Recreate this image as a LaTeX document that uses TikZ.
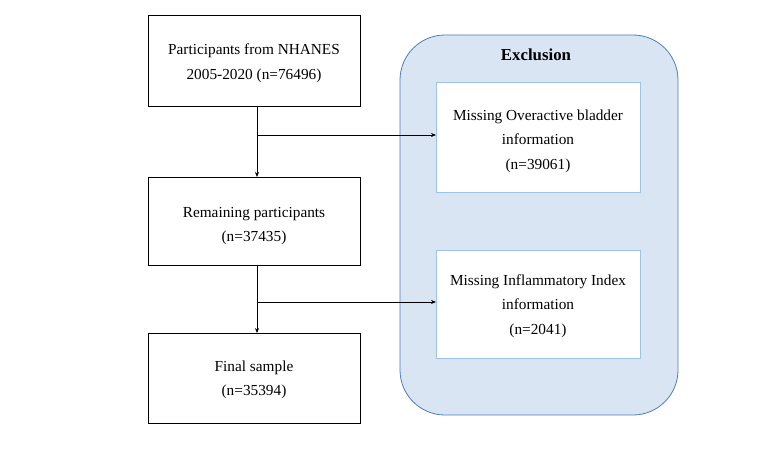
\documentclass[tikz,border=0pt]{standalone}
\usepackage{fontspec}
\setmainfont{Liberation Serif}
\usetikzlibrary{arrows.meta}
\begin{document}
\begin{tikzpicture}[x=1pt,y=-1pt,
  mainbox/.style={draw=black,line width=1pt,fill=white},
  subbox/.style={draw={rgb,255:red,157;green,195;blue,230},line width=1pt,fill=white},
  lbl/.style={font=\fontsize{15.3}{24.5}\selectfont,align=center},
  arr/.style={-{Stealth[length=5pt,width=4pt]},line width=0.8pt}]
\useasboundingbox (0,0) rectangle (777,460);
\draw[draw={rgb,255:red,74;green,126;blue,187},fill={rgb,255:red,218;green,229;blue,243},rounded corners=45pt,line width=0.8pt] (400,35) rectangle (678,415);
\node[font=\fontsize{16.8}{18}\selectfont\bfseries] (ex) at (536,55) {Exclusion};
\draw[mainbox] (148,16) rectangle (360,107);
\node[lbl] (a) at (254,63) {Participants from NHANES\\2005-2020 (n=76496)};
\draw[mainbox] (148,177) rectangle (360,265);
\node[lbl] (b) at (254,226) {Remaining participants\\(n=37435)};
\draw[mainbox] (148,333) rectangle (360,423);
\node[lbl] (c) at (254,380) {Final sample\\(n=35394)};
\draw[subbox] (436,83) rectangle (640,192);
\node[lbl] (d) at (538,141) {Missing Overactive bladder\\information\\(n=39061)};
\draw[subbox] (436,250) rectangle (640,358);
\node[lbl] (e) at (538,306) {Missing Inflammatory Index\\information\\(n=2041)};
\coordinate (a1) at (257,107); \coordinate (b1) at (257,177);
\coordinate (j1) at (257,135); \coordinate (d1) at (436,135);
\coordinate (b2) at (257,265); \coordinate (c1) at (257,333);
\coordinate (j2) at (257,302); \coordinate (e1) at (436,302);
\draw[arr] (a1) -- (b1);
\draw[arr] (j1) -- (d1);
\draw[arr] (b2) -- (c1);
\draw[arr] (j2) -- (e1);
\end{tikzpicture}
\end{document}
